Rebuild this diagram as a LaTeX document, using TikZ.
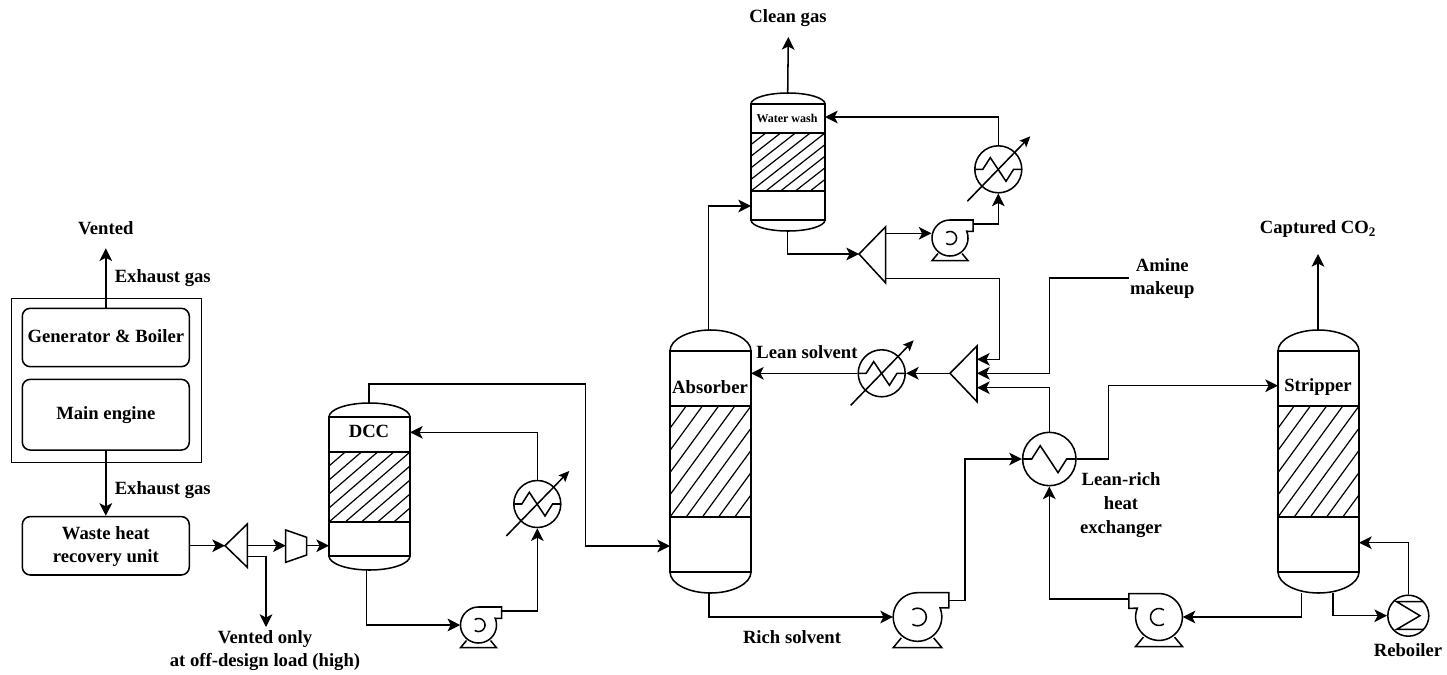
\documentclass[tikz,border=0pt]{standalone}
\usepackage{fontspec}
\setmainfont{Liberation Serif}
\usetikzlibrary{arrows.meta}
\tikzset{
  eq/.style={draw=black,line width=1.15pt},
  flow/.style={draw=black,line width=1.15pt,-{Stealth[length=9.5pt,width=9.5pt,inset=2.4pt]}},
  lab/.style={font=\fontsize{14}{17.8}\selectfont\bfseries,align=center,inner sep=0,text=black},
  labsmall/.style={font=\fontsize{9}{11}\selectfont\bfseries,align=center,inner sep=0,text=black},
  unitbox/.style={draw=black,line width=1.15pt,rounded corners=6pt,inner sep=0}
}
% name, left, right, top, line1, pack1, pack2, line2, bottom
\newcommand\columnsym[9]{%
  \pgfmathsetmacro\colcx{(#2+#3)/2}
  \pgfmathsetmacro\colcy{(#5+#8)/2}
  \pgfmathsetmacro\colhw{(#3-#2)/2}
  \pgfmathsetmacro\colp{(#3-#2)/5}
  \pgfmathsetmacro\colka{#5-0.55*(#5-#4)}
  \pgfmathsetmacro\colkb{#8+0.55*(#9-#8)}
  \pgfmathsetmacro\colma{\colcx-0.55*\colhw}
  \pgfmathsetmacro\colmb{\colcx+0.55*\colhw}
  \node[inner sep=0,minimum width={(#3-#2)*0.75pt},minimum height={(#8-#5)*0.75pt}] (#1) at (\colcx,\colcy) {};
  \begin{scope}
    \clip (#2,#6) rectangle (#3,#7);
    \foreach \k in {-5,...,5}
      \draw[eq,line width=0.9pt] ({#3+\k*\colp},#6) -- ({#2+\k*\colp},#7);
  \end{scope}
  \draw[eq] (#2,#5) rectangle (#3,#8);
  \draw[eq] (#2,#6) -- (#3,#6) (#2,#7) -- (#3,#7);
  \draw[eq] (#2,#5) .. controls (#2,\colka) and (\colma,#4) .. (\colcx,#4)
            .. controls (\colmb,#4) and (#3,\colka) .. (#3,#5);
  \draw[eq] (#2,#8) .. controls (#2,\colkb) and (\colma,#9) .. (\colcx,#9)
            .. controls (\colmb,#9) and (#3,\colkb) .. (#3,#8);
}
% name, x, y, scale, direction (1 or -1)
\newcommand\pumpsym[5]{%
  \node[circle,inner sep=0,minimum size={#4*36*0.75pt}] (#1) at (#2,#3) {};
  \begin{scope}[shift={(#2,#3)},xscale={#5*#4},yscale=#4]
    \draw[eq] plot[domain=-22:270,samples=50] ({18*cos(\x)},{18*sin(\x)})
       -- (23.2,-18) -- (23.2,-6.7) -- cycle;
    \draw[eq] plot[domain=-125:125,samples=30] ({6.5*cos(\x)},{6.5*sin(\x)});
    \draw[eq] (12,15.5) -- (18,22.7) -- (-18,22.7) -- (-12,15.5);
    \coordinate (#1-out) at (23.2,-14);
  \end{scope}
}
% name, x, y, scale
\newcommand\hexbase[4]{%
  \node[circle,eq,inner sep=0,minimum size={#4*47*0.75pt}] (#1) at (#2,#3) {};
  \begin{scope}[shift={(#2,#3)},scale=#4]
    \draw[eq] (-23.5,0) -- (-15.5,0) -- (-8,-11.7) -- (7.7,12) -- (15.3,0) -- (23.5,0);
  \end{scope}
}
\newcommand\hexadj[4]{%
  \hexbase{#1}{#2}{#3}{#4}
  \begin{scope}[shift={(#2,#3)}]
    \draw[eq,-{Stealth[length=8pt,width=7pt,inset=1.5pt]}] (-31,32) -- (32,-33);
  \end{scope}
}
\begin{document}
\begin{tikzpicture}[x=0.75pt,y=-0.75pt]
\useasboundingbox (0,0) rectangle (1447,675);

% --- left units
\draw[eq] (11.7,298.7) rectangle (201.7,462.7);
\node[unitbox,minimum width={167*0.75pt},minimum height={58.4*0.75pt}] (gen) at (105.8,337.5) {};
\node[unitbox,minimum width={167*0.75pt},minimum height={70.7*0.75pt}] (eng) at (105.8,414.7) {};
\node[unitbox,minimum width={167*0.75pt},minimum height={58.4*0.75pt}] (whr) at (105.8,545.8) {};
\node[lab] (genT) at (105.8,336.5) {Generator \& Boiler};
\node[lab] (engT) at (105.8,415.5) {Main engine};
\node[lab] (whrT) at (105.8,546.5) {Waste heat\\recovery unit};

% --- columns
\columnsym{dcc}{329}{410}{403}{417}{452}{522}{556}{570}
\columnsym{abs}{670}{751}{330}{351}{406}{517}{572}{593}
\columnsym{ww}{751}{825}{93}{104}{133}{191}{220}{231}
\columnsym{str}{1278}{1359}{330}{351}{406}{517}{572}{593}

% --- pumps
\pumpsym{pa}{478.5}{625}{1}{1}
\pumpsym{pb}{950}{238}{1}{1}
\pumpsym{pc}{917.5}{617}{1.35}{1}
\pumpsym{pd}{1159}{617}{1.3}{-1}

% --- exchangers
\hexadj{hxa}{537.3}{504}{1}
\hexadj{hxb}{998.3}{169.3}{1}
\hexadj{hxc}{881.7}{373.3}{1}
\hexbase{hxd}{1049.3}{459}{1.136}
\node[circle,eq,inner sep=0,minimum size={41*0.75pt}] (reb) at (1408.3,615.7) {};
\begin{scope}[shift={(1408.3,615.7)}]
  \draw[eq] (15,-14) -- (-11.7,-14) -- (11.7,0) -- (-11.7,13.7) -- (15,13.7);
\end{scope}

% --- splitters and compressor
\draw[eq] (225,545.7) -- (247.3,524) -- (247.3,567.3) -- cycle;
\draw[eq] (859,254) -- (885.7,226.7) -- (885.7,283) -- cycle;
\draw[eq] (950,373.3) -- (977,346) -- (977,401.7) -- cycle;
\draw[eq] (285.7,530) -- (306.7,537.3) -- (306.7,555) -- (285.7,562.3) -- cycle;

% --- ports
\coordinate (ta-tip) at (225,545.7);
\coordinate (ta-a) at (247.3,545.7);
\coordinate (ta-b) at (247.3,556.5);
\coordinate (ventb) at (266,627);
\coordinate (ca) at (285.7,545.7);
\coordinate (cb) at (306.7,545.7);
\coordinate (dcc-in) at (329,545.7);
\coordinate (dcc-top) at (369,403);
\coordinate (dcc-feed) at (410,432.3);
\coordinate (dcc-bot) at (366.7,570);
\coordinate (bend-a) at (585.7,384);
\coordinate (abs-gas) at (670,546);
\coordinate (abs-top) at (708.5,330);
\coordinate (abs-bot) at (709,593);
\coordinate (abs-lean) at (751,373.3);
\coordinate (ww-in) at (751,206);
\coordinate (ww-top) at (787.7,93);
\coordinate (ww-bot) at (787.7,231);
\coordinate (ww-feed) at (825,117);
\coordinate (cleanout) at (788.3,37);
\coordinate (tb-tip) at (859,254);
\coordinate (tb-a) at (885.7,233.3);
\coordinate (tb-b) at (885.7,278.3);
\coordinate (pb-in) at (931.5,233.3);
\coordinate (tc-tip) at (950,373.3);
\coordinate (tc-a) at (977,359.3);
\coordinate (tc-b) at (977,373.3);
\coordinate (tc-c) at (977,387.7);
\coordinate (amine) at (1128.7,278);
\coordinate (bend-b) at (1108.7,385.7);
\coordinate (str-in) at (1278,385.7);
\coordinate (str-bl) at (1301.7,593);
\coordinate (str-br) at (1333,593);
\coordinate (str-re) at (1359,542.7);
\coordinate (str-top) at (1318,330);
\coordinate (co2out) at (1318,254);
\coordinate (gen-out) at (105.8,248.3);
\coordinate (pc-o) at (948,600.3);

% --- connectors
\draw[flow] (gen.north) -- (gen-out);
\draw[flow] (eng.south) -- (whr.north);
\draw[flow] (whr.east |- ta-tip) -- (ta-tip);
\draw[flow] (ta-a) -- (ca);
\draw[flow] (cb) -- (dcc-in);
\draw[flow] (ta-b) -| (ventb);
\draw[flow] (dcc-top) |- (bend-a) |- (abs-gas);
\draw[flow] (dcc-bot) |- (pa.west);
\draw[flow] (pa-out) -| (hxa.south);
\draw[flow] (hxa.north) |- (dcc-feed);
\draw[flow] (abs-bot) |- (pc.west);
\draw[flow] (abs-top) |- (ww-in);
\draw[flow] (ww-top) -- (cleanout);
\draw[flow] (ww-bot) |- (tb-tip);
\draw[flow] (tb-a) -- (pb-in);
\draw[flow] (pb-out) -| (hxb.south);
\draw[flow] (hxb.north) |- (ww-feed);
\draw[flow] (tb-b) -| (999.7,330) |- (tc-a);
\draw[flow] (amine) -| (1049.3,330) |- (tc-b);
\draw[flow] (hxd.north) |- (tc-c);
\draw[flow] (tc-tip) -- (hxc.east);
\draw[flow] (hxc.west) -- (abs-lean);
\draw[flow] (pc-o) -| (965,500) |- (hxd.west);
\draw[flow] (hxd.east) -| (bend-b) -- (str-in);
\draw[flow] (pd-out) -| (hxd.south);
\draw[flow] (str-bl) |- (pd.east);
\draw[flow] (str-br) |- (reb.west);
\draw[flow] (reb.north) |- (str-re);
\draw[flow] (str-top) -- (co2out);

% --- labels
\node[lab] (tVent) at (105.8,228) {Vented};
\node[lab,anchor=west] (tExA) at (114.5,278.5) {Exhaust gas};
\node[lab,anchor=west] (tExB) at (114.5,490.5) {Exhaust gas};
\node[lab] (tVentB) at (265,650.5) {Vented only\\at off-design load (high)};
\node[lab] (tDcc) at (369,431.5) {DCC};
\node[lab] (tClean) at (788,18.5) {Clean gas};
\node[labsmall] (tWash) at (787,118) {Water wash};
\node[lab] (tAbs) at (710,387) {Absorber};
\node[lab] (tLean) at (807,352) {Lean solvent};
\node[lab] (tRich) at (792,637.5) {Rich solvent};
\node[lab] (tAmine) at (1162.3,278.5) {Amine\\makeup};
\node[lab] (tCap) at (1318,229) {Captured CO\textsubscript{2}};
\node[lab] (tStr) at (1318,387) {Stripper};
\node[lab] (tLr) at (1121,505) {Lean-rich\\heat\\exchanger};
\node[lab] (tReb) at (1408,650) {Reboiler};
\end{tikzpicture}
\end{document}
